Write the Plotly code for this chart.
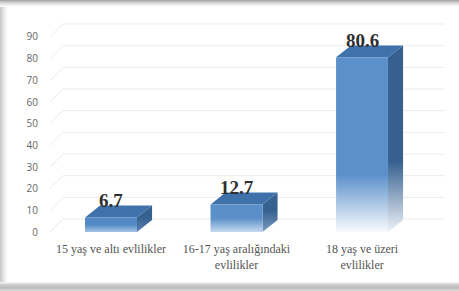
import plotly.graph_objects as go

categories = ["15 yaş ve altı evlilikler", "16-17 yaş aralığındaki<br>evlilikler", "18 yaş ve üzeri<br>evlilikler"]
values = [6.7, 12.7, 80.6]
value_labels = ["6.7", "12.7", "80.6"]
y_ticks = [0, 10, 20, 30, 40, 50, 60, 70, 80, 90]

# styling / geometry (not data)
W, H = 459, 291
ML, MR, MT, MB = 48, 14, 22, 57
XR = [-0.502, 2.661]
YR = [-0.923, 96.92]
BW = 0.414          # front face width (x units)
DX, DY = 0.12, 5.5  # bar depth offset
GDX, GDY = 0.104, 6.0  # grid back-wall offset
FRONT_TOP = ["#5189c5", "#5a8fc9", "#5b90cb"]
FRONT_BOT = ["#a6c4e5", "#c6daf0", "#f8fbfe"]
FADE = [0.5, 0.5, 0.33]
SIDE_TOP = "#35608f"
SIDE_BOT = ["#5d84b0", "#7c9cc0", "#eef2f7"]
TOP_C = "#3f72ab"

fig = go.Figure()

# gridlines (front-left diagonal + back wall)
for v in y_ticks:
    fig.add_trace(go.Scatter(
        x=[XR[0] + 0.016, XR[0] + 0.016 + GDX, XR[1]],
        y=[v, v + GDY, v + GDY],
        mode="lines", line=dict(color="#ececec", width=1),
        hoverinfo="skip", showlegend=False))

for i, v in enumerate(values):
    x0, x1 = i - BW / 2, i + BW / 2
    # side face
    fig.add_trace(go.Scatter(
        x=[x1, x1 + DX, x1 + DX, x1, x1],
        y=[0, DY, v + DY, v, 0],
        mode="lines", line=dict(width=0), fill="toself",
        fillgradient=dict(type="vertical", start=0, stop=v + DY,
                          colorscale=[[0, SIDE_BOT[i]], [FADE[i] + 0.05, SIDE_TOP], [1, SIDE_TOP]]),
        hoverinfo="skip", showlegend=False))
    # top face
    fig.add_trace(go.Scatter(
        x=[x0, x1, x1 + DX, x0 + DX, x0],
        y=[v, v, v + DY, v + DY, v],
        mode="lines", line=dict(width=0), fill="toself", fillcolor=TOP_C,
        hoverinfo="skip", showlegend=False))
    # front face
    fig.add_trace(go.Scatter(
        x=[x0, x1, x1, x0, x0],
        y=[0, 0, v, v, 0],
        mode="lines", line=dict(width=0), fill="toself",
        fillgradient=dict(type="vertical", start=0, stop=v,
                          colorscale=[[0, FRONT_BOT[i]], [FADE[i], FRONT_TOP[i]], [1, FRONT_TOP[i]]]),
        hoverinfo="skip", showlegend=False))
    fig.add_annotation(x=i, y=v, text=value_labels[i], showarrow=False,
                       yanchor="middle", yshift=17,
                       font=dict(family="Liberation Serif", size=19, color="#2e2e2e", weight="bold"))

# frame shading (paper coords)
pw = W - ML - MR
ph = H - MT - MB
def px(xp):
    return (xp - ML) / pw
def py(yp):
    return (H - MB - yp) / ph

shapes = []
for k, c in enumerate(["#a9a9a9", "#bdbdbd", "#cfcfcf", "#dedede", "#e9e9e9", "#f2f2f2"]):
    shapes.append(dict(type="rect", xref="paper", yref="paper", layer="above",
                       x0=px(0), x1=px(W), y0=py(k), y1=py(k + 1.2), fillcolor=c, line=dict(width=0)))
for k, c in enumerate(["#c9c9c9", "#d3d3d3", "#dcdcdc", "#e4e4e4", "#ebebeb", "#f1f1f1", "#f6f6f6"]):
    shapes.append(dict(type="rect", xref="paper", yref="paper", layer="above",
                       x0=px(k), x1=px(k + 1.2), y0=py(7), y1=py(283), fillcolor=c, line=dict(width=0)))
for k, c in enumerate(["#f2f2f2", "#e2e2e2", "#d2d2d2", "#c8c8c8", "#c2c2c2", "#c0c0c0", "#c4c4c4", "#cccccc", "#d6d6d6"]):
    shapes.append(dict(type="rect", xref="paper", yref="paper", layer="above",
                       x0=px(0), x1=px(W), y0=py(282 + k), y1=py(283.2 + k), fillcolor=c, line=dict(width=0)))

fig.update_layout(
    width=W, height=H,
    margin=dict(l=ML, r=MR, t=MT, b=MB),
    paper_bgcolor="white", plot_bgcolor="white",
    showlegend=False,
    shapes=shapes,
    xaxis=dict(range=XR, tickvals=[0, 1, 2], ticktext=categories,
               showgrid=False, zeroline=False, showline=False, ticks="",
               ticklabelstandoff=6,
               tickfont=dict(family="Liberation Serif", size=12, color="#555555")),
    yaxis=dict(range=YR, tickvals=y_ticks, showgrid=False, zeroline=False,
               showline=False, ticks="", ticklabelstandoff=9,
               tickfont=dict(family="Open Sans", size=10, color="#666666")),
)

fig.write_html("out.html", config={"displayModeBar": False},
               post_script="document.body.style.margin='0px';document.body.style.overflow='hidden';")
